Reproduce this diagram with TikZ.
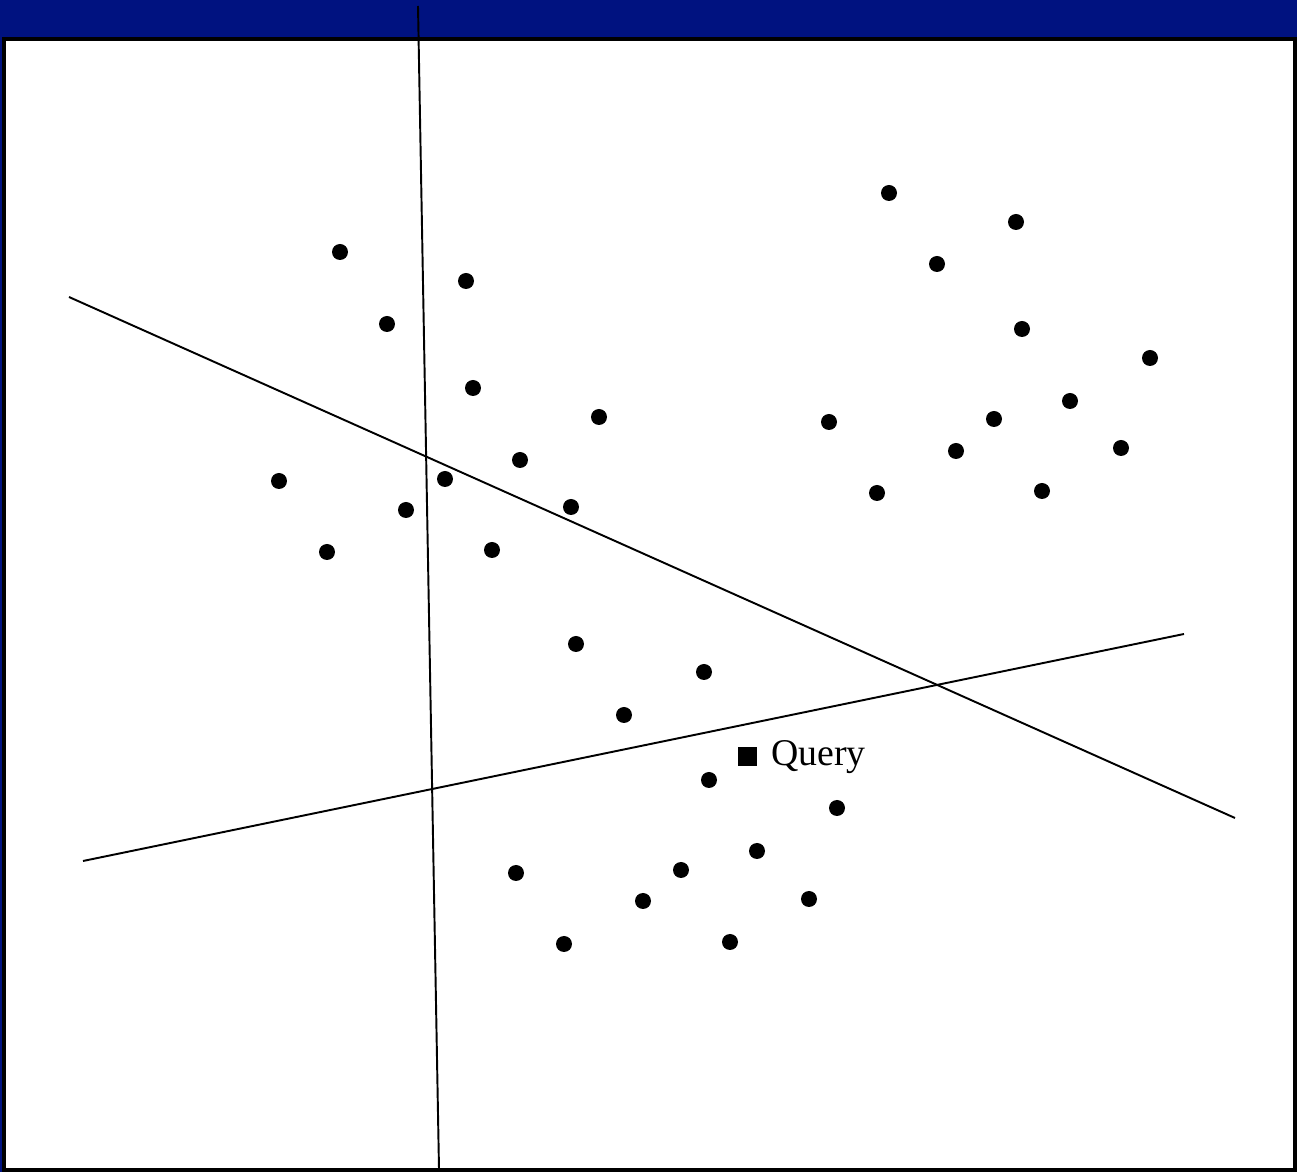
\documentclass[tikz,border=0pt]{standalone}
\usepackage{fontspec}
\setmainfont{Liberation Serif}
\usepackage{xcolor}
\usetikzlibrary{positioning}
\definecolor{bandblue}{RGB}{0,18,128}

\begin{document}
\begin{tikzpicture}[x=0.02cm,y=-0.02cm,
  pt/.style={circle,fill=black,inner sep=0pt,minimum size=0.32cm},
  cut/.style={line width=1.1pt}]
\fill[bandblue] (0,0) rectangle (1297,1172);
\draw[line width=2.3pt,fill=white] (4,39) rectangle (1295,1170);
% cutting lines
\coordinate (v1) at (418,6);\coordinate (v2) at (439,1169);
\coordinate (a1) at (69,297);\coordinate (a2) at (1235,818);
\coordinate (b1) at (83,861);\coordinate (b2) at (1184,634);
\draw[cut] (v1)--(v2);\draw[cut] (a1)--(a2);\draw[cut] (b1)--(b2);
% data points
\foreach \x/\y [count=\i] in {340/252,466/281,387/324,473/388,599/417,520/460,445/479,279/481,406/510,571/507,327/552,492/550,
  576/644,704/672,624/715,709/780,837/808,757/851,681/870,516/873,643/901,809/899,564/944,730/942,
  889/193,1016/222,937/264,1022/329,1150/358,1070/401,829/422,994/419,956/451,1121/448,877/493,1042/491}
  \node[pt] (p\i) at (\x,\y) {};
\node[fill=black,inner sep=0pt,minimum size=0.38cm] (query) at (747,757) {};
\node[right=0.28cm of query,inner sep=0pt,font=\fontsize{21.5}{24}\selectfont] (qlabel) {Query};
\end{tikzpicture}
\end{document}
